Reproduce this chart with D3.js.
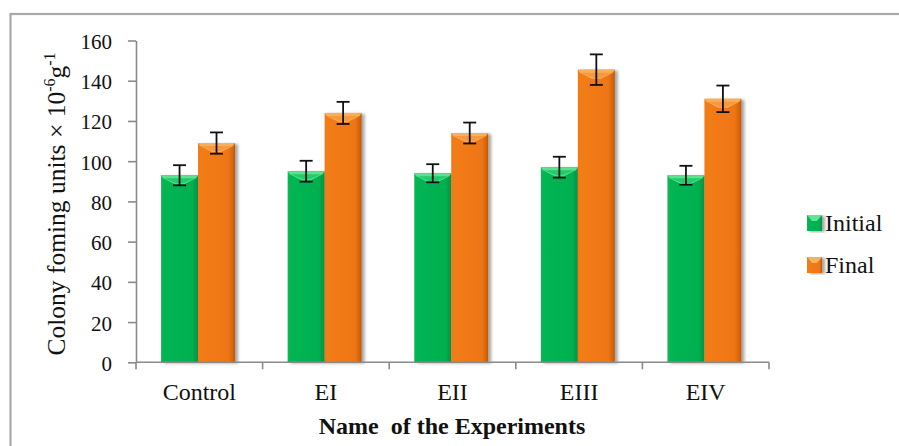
<!DOCTYPE html>
<html>
<head>
<meta charset="utf-8">
<script src="https://cdn.jsdelivr.net/npm/d3@7/dist/d3.min.js"></script>
<style>
  html, body { margin: 0; padding: 0; background: #fff; }
  svg { display: block; }
  text { font-family: "Liberation Serif", "Times New Roman", serif; fill: #111; }
</style>
</head>
<body>
<svg id="chart" width="899" height="446"></svg>
<script>
// ---- data ----
const categories = ["Control", "EI", "EII", "EIII", "EIV"];
const seriesNames = ["Initial", "Final"];
const initialValues = [93, 95, 94, 97, 93];
const finalValues = [109, 124, 114, 145.5, 131];
const initialErrors = [5, 5.2, 4.5, 5.2, 4.7];
const finalErrors = [5.3, 5.5, 5.2, 7.6, 6.6];
const yTicks = [0, 20, 40, 60, 80, 100, 120, 140, 160];

const svg = d3.select("#chart");
const W = 899, H = 446;
svg.append("rect").attr("width", W).attr("height", H).attr("fill", "#fff");

// outer frame (extends beyond right/bottom edge)
svg.append("rect").attr("x", 10.5).attr("y", 14).attr("width", 1000).attr("height", 1000)
  .attr("fill", "none").attr("stroke", "#a9a9a9").attr("stroke-width", 2.2);

const plot = { left: 136, right: 769, top: 40.5, bottom: 362.3 };

const x0 = d3.scaleBand().domain(categories).range([plot.left, plot.right]).padding(0);
const bw = x0.bandwidth();
const x1 = d3.scaleBand().domain(seriesNames).range([bw * 0.198, bw * 0.782]).padding(0);
const y = d3.scaleLinear().domain([0, 160]).range([plot.bottom, plot.top]);

const defs = svg.append("defs");
function grad(id, stops) {
  const g = defs.append("linearGradient").attr("id", id).attr("x1", "0").attr("x2", "1").attr("y1", "0").attr("y2", "0");
  stops.forEach(s => g.append("stop").attr("offset", s[0]).attr("stop-color", s[1]));
}
grad("gGreen", [[0, "#0cb451"], [0.08, "#05b552"], [0.85, "#00b050"], [0.95, "#079a48"], [1, "#0a8a40"]]);
grad("gOrange", [[0, "#f07a16"], [0.08, "#f27c17"], [0.82, "#ef7614"], [0.93, "#d8660e"], [1, "#b85a12"]]);
const f = defs.append("filter").attr("id", "shadow").attr("x", "-20%").attr("y", "-5%").attr("width", "150%").attr("height", "115%");
f.append("feGaussianBlur").attr("in", "SourceAlpha").attr("stdDeviation", 1.6).attr("result", "b");
f.append("feOffset").attr("in", "b").attr("dx", 2.5).attr("dy", 1).attr("result", "o");
f.append("feComponentTransfer").attr("in", "o").attr("result", "o2")
  .append("feFuncA").attr("type", "linear").attr("slope", 0.35);
const fm = f.append("feMerge");
fm.append("feMergeNode").attr("in", "o2");
fm.append("feMergeNode").attr("in", "SourceGraphic");

const fills = { Initial: "url(#gGreen)", Final: "url(#gOrange)" };
const bevel = { Initial: "#5fe690", Final: "#f9b25e" };
const bevelDark = { Initial: "#17c464", Final: "#f59238" };

const rows = categories.map((c, i) => ({
  cat: c,
  vals: [
    { s: "Initial", v: initialValues[i], e: initialErrors[i] },
    { s: "Final", v: finalValues[i], e: finalErrors[i] }
  ]
}));

// axes
const axisColor = "#8a8a8a";
const yAxis = svg.append("g").attr("transform", `translate(${plot.left},0)`)
  .call(d3.axisLeft(y).tickValues(yTicks).tickSize(8).tickPadding(16).tickSizeOuter(0));
yAxis.select(".domain").attr("stroke", axisColor).attr("stroke-width", 1.6);
yAxis.selectAll(".tick line").attr("stroke", axisColor).attr("stroke-width", 1.6);
yAxis.selectAll(".tick text").attr("font-size", 21).attr("font-family", "Liberation Serif").attr("fill", "#111").attr("dy", "0.38em");

const groups = svg.append("g").selectAll("g").data(rows).join("g")
  .attr("transform", d => `translate(${x0(d.cat)},0)`);

groups.selectAll("rect.bar").data(d => d.vals).join("rect").attr("class", "bar")
  .attr("x", d => x1(d.s)).attr("width", x1.bandwidth())
  .attr("y", d => y(d.v)).attr("height", d => y(0) - y(d.v))
  .attr("fill", d => fills[d.s]).attr("filter", "url(#shadow)");

// bevel on top of each bar
groups.selectAll("path.bevel").data(d => d.vals).join("path").attr("class", "bevel")
  .attr("d", d => {
    const xa = x1(d.s), xb = xa + x1.bandwidth(), t = y(d.v), w = x1.bandwidth();
    return `M${xa},${t}L${xb},${t}L${xb - 2},${t + 3}L${xa + w * 0.62},${t + 9}L${xa + w * 0.38},${t + 9}L${xa + 2},${t + 3}Z`;
  })
  .attr("fill", d => bevel[d.s]).attr("opacity", 0.95);
groups.selectAll("path.bevel2").data(d => d.vals).join("path").attr("class", "bevel2")
  .attr("d", d => {
    const xa = x1(d.s), t = y(d.v), w = x1.bandwidth();
    return `M${xa + 3},${t + 3}L${xa + w - 3},${t + 3}L${xa + w * 0.6},${t + 8}L${xa + w * 0.4},${t + 8}Z`;
  })
  .attr("fill", d => bevelDark[d.s]).attr("opacity", 0.8);

// error bars
const eg = groups.selectAll("g.err").data(d => d.vals).join("g").attr("class", "err")
  .attr("stroke", "#111").attr("stroke-width", 1.8);
const cx = d => x1(d.s) + x1.bandwidth() / 2;
eg.append("line").attr("x1", cx).attr("x2", cx).attr("y1", d => y(d.v + d.e)).attr("y2", d => y(d.v - d.e));
eg.append("line").attr("x1", d => cx(d) - 6.5).attr("x2", d => cx(d) + 6.5).attr("y1", d => y(d.v + d.e)).attr("y2", d => y(d.v + d.e));
eg.append("line").attr("x1", d => cx(d) - 6.5).attr("x2", d => cx(d) + 6.5).attr("y1", d => y(d.v - d.e)).attr("y2", d => y(d.v - d.e));

// x axis
const xAxisG = svg.append("g").attr("transform", `translate(0,${plot.bottom})`);
xAxisG.append("line").attr("x1", plot.left).attr("x2", plot.right).attr("y1", 0).attr("y2", 0)
  .attr("stroke", axisColor).attr("stroke-width", 1.6);
const boundaries = categories.map(c => x0(c)).concat([x0(categories[categories.length - 1]) + bw]);
xAxisG.selectAll("line.tk").data(boundaries).join("line").attr("class", "tk")
  .attr("x1", d => d).attr("x2", d => d).attr("y1", 0).attr("y2", 7)
  .attr("stroke", axisColor).attr("stroke-width", 1.6);
xAxisG.selectAll("text.cat").data(categories).join("text").attr("class", "cat")
  .attr("x", d => x0(d) + bw / 2).attr("y", 38).attr("text-anchor", "middle")
  .attr("font-size", 24).text(d => d);

// axis titles
svg.append("text").attr("x", 452).attr("y", 434).attr("text-anchor", "middle")
  .attr("font-size", 24).attr("font-weight", "bold").attr("xml:space", "preserve")
  .text("Name  of the Experiments");

const yt = svg.append("text").attr("transform", "translate(65,204) rotate(-90)")
  .attr("text-anchor", "middle").attr("font-size", 25.5);
yt.append("tspan").text("Colony foming units × 10");
yt.append("tspan").attr("font-size", 16).attr("dy", -10).text("-6");
yt.append("tspan").attr("dy", 10).text("g");
yt.append("tspan").attr("font-size", 16).attr("dy", -10).text("-1");

// legend
const legend = svg.append("g");
const legendRows = [{ s: "Initial", y: 215 }, { s: "Final", y: 257 }];
legendRows.forEach(r => {
  legend.append("rect").attr("x", 807).attr("y", r.y).attr("width", 15).attr("height", 16)
    .attr("fill", fills[r.s]).attr("filter", "url(#shadow)");
  legend.append("path")
    .attr("d", `M807,${r.y}L822,${r.y}L817,${r.y + 6}L812,${r.y + 6}Z`)
    .attr("fill", bevel[r.s]);
  legend.append("text").attr("x", 825).attr("y", r.y + 15.5).attr("font-size", 24).text(r.s);
});
</script>
</body>
</html>
